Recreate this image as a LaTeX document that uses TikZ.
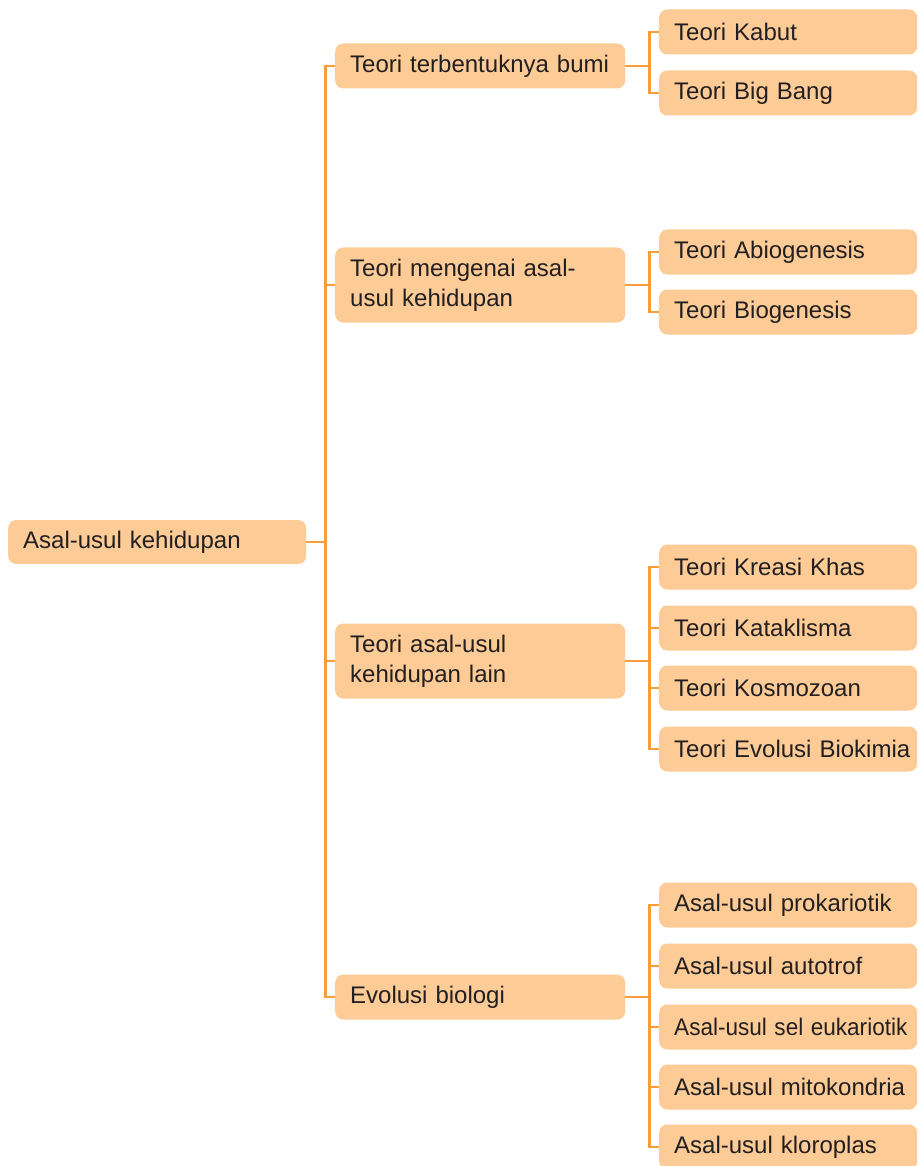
\documentclass[tikz,border=0pt]{standalone}
\usepackage{graphicx}
\usepackage{fontspec}
\setmainfont[WordSpace=1.8]{Liberation Sans}
\definecolor{boxfill}{RGB}{253,203,150}
\definecolor{linecol}{RGB}{247,158,60}
\definecolor{txt}{RGB}{35,31,32}
\begin{document}
\begin{tikzpicture}[x=1pt,y=-1pt,
  box/.style={rectangle, rounded corners=8pt, fill=boxfill, draw=none, anchor=west,
    inner xsep=15pt, inner ysep=0pt, align=left, text=txt,
    font=\fontsize{24}{30}\selectfont},
  rootbox/.style={box, minimum width=298pt, minimum height=44pt, text width=268pt},
  lone/.style={box, minimum width=290pt, minimum height=45pt, text width=260pt},
  lonetwo/.style={box, minimum width=290pt, minimum height=75pt, text width=260pt},
  ltwo/.style={box, minimum width=258pt, minimum height=45pt, text width=228pt},
  conn/.style={draw=linecol, line width=2.3pt}]
\useasboundingbox (0,0) rectangle (918,1166);
\node[rootbox] (root) at (8,542) {Asal-usul kehidupan};
\node[lone] (a) at (335,66) {Teori terbentuknya bumi};
\node[lonetwo] (b) at (335,285) {Teori mengenai asal-\\usul kehidupan};
\node[lonetwo] (c) at (335,661) {Teori asal-usul\\kehidupan lain};
\node[lone] (d) at (335,997) {Evolusi biologi};
\node[ltwo] (a1) at (659,32) {Teori Kabut};
\node[ltwo] (a2) at (659,93) {Teori Big Bang};
\node[ltwo] (b1) at (659,252) {Teori Abiogenesis};
\node[ltwo] (b2) at (659,312) {Teori Biogenesis};
\node[ltwo] (c1) at (659,567) {Teori Kreasi Khas};
\node[ltwo] (c2) at (659,628) {Teori Kataklisma};
\node[ltwo] (c3) at (659,688) {Teori Kosmozoan};
\node[ltwo] (c4) at (659,749) {\mbox{Teori Evolusi Biokimia}};
\node[ltwo] (d1) at (659,905) {Asal-usul prokariotik};
\node[ltwo] (d2) at (659,966) {Asal-usul autotrof};
\node[ltwo] (d3) at (659,1027) {\scalebox{0.94}[1]{Asal-usul sel eukariotik}};
\node[ltwo] (d4) at (659,1087) {\mbox{Asal-usul mitokondria}};
\node[ltwo] (d5) at (659,1147) {Asal-usul kloroplas};
\foreach \t in {a,b,c,d}{\draw[conn] (root.east) -- ++(19,0) |- (\t.west);}
\foreach \t in {a1,a2}{\draw[conn] (a.east) -- ++(24,0) |- (\t.west);}
\foreach \t in {b1,b2}{\draw[conn] (b.east) -- ++(24,0) |- (\t.west);}
\foreach \t in {c1,c2,c3,c4}{\draw[conn] (c.east) -- ++(24,0) |- (\t.west);}
\foreach \t in {d1,d2,d3,d4,d5}{\draw[conn] (d.east) -- ++(24,0) |- (\t.west);}
\end{tikzpicture}
\end{document}
